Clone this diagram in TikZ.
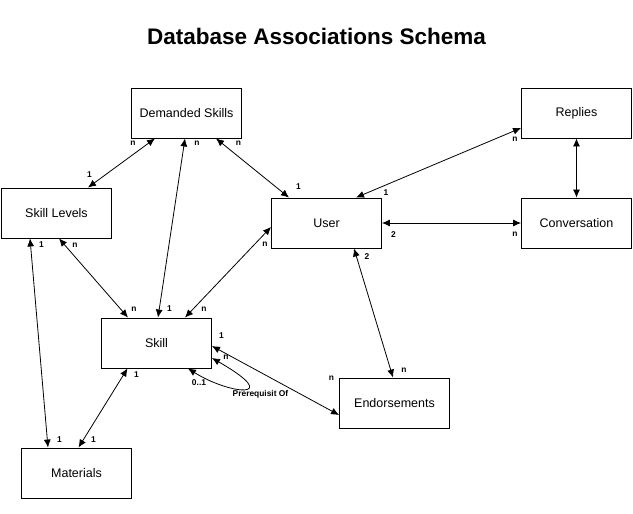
\documentclass[tikz,border=0pt]{standalone}
\usepackage{fontspec}
\setmainfont{Liberation Sans}
\usepackage{tikz}
\usetikzlibrary{calc}
\usetikzlibrary{arrows}
\usetikzlibrary{arrows.meta}
\usetikzlibrary{shapes}
\usetikzlibrary{positioning}

\tikzset{
 entity/.style={rectangle, draw=black, line width=0.9pt, minimum width=110pt, minimum height=50pt, inner sep=0pt, font=\fontsize{12.5}{14}\selectfont},
 card/.style={inner sep=0pt, font=\fontsize{8.4}{10}\selectfont\bfseries},
 assoc/.style={{Latex[length=8pt,width=7pt]}-{Latex[length=8pt,width=7pt]}, draw=black, line width=0.8pt}
}

\begin{document}
\begin{tikzpicture}[x=1pt, y=-1pt]
 \useasboundingbox (0, 0) rectangle (633, 514);
 \node [inner sep=0pt, font=\fontsize{22.5}{26}\selectfont\bfseries] (title) at (316.5, 36) {Database Associations Schema};

 \node [entity] (DS) at (186.5, 113) {Demanded Skills};
 \node [entity] (SL) at (56.5, 213) {Skill Levels};
 \node [entity] (U) at (326.5, 223) {User};
 \node [entity] (R) at (576.5, 113) {Replies};
 \node [entity] (C) at (576.5, 223) {Conversation};
 \node [entity] (S) at (156.5, 343) {Skill};
 \node [entity] (M) at (76.5, 473) {Materials};
 \node [entity] (E) at (394.5, 403) {Endorsements};

 \draw [assoc] ([xshift=-31.5pt]DS.south) to ([xshift=31.5pt]SL.north);
 \draw [assoc] ([xshift=-1.5pt]DS.south) to ([xshift=1.5pt]S.north);
 \draw [assoc] ([xshift=29.5pt]DS.south) to ([xshift=-37.5pt]U.north);
 \draw [assoc] ([xshift=-26.5pt]SL.south) to ([xshift=-28.5pt]M.north);
 \draw [assoc] ([xshift=2.5pt]SL.south) to ([xshift=-28.5pt]S.north);
 \draw [assoc] ([xshift=28.5pt]S.north) to ([yshift=-4pt]U.west);
 \draw [assoc] (U.east) to (C.west);
 \draw [assoc] ([xshift=29.5pt]U.north) to ([yshift=-15pt]R.west);
 \draw [assoc] (R.south) to (C.north);
 \draw [assoc] ([xshift=27.5pt]U.south) to ([xshift=-1.5pt]E.north);
 \draw [assoc] ([yshift=-3pt]S.east) to ([yshift=-12pt]E.west);
 \draw [assoc] ([xshift=-29pt]S.south) to ([xshift=2pt]M.north);
 \draw [assoc] ([yshift=-15pt]S.east) .. controls (285, 400) and (230, 395) .. ([xshift=31.5pt]S.south);

 % cardinalities
 \node [card] (c1a) at (133, 143) {n};
 \node [card] (c1b) at (89.5, 175) {1};
 \node [card] (c2a) at (197, 143) {n};
 \node [card] (c2b) at (169.5, 309) {1};
 \node [card] (c3a) at (238.5, 143) {n};
 \node [card] (c3b) at (298.5, 187) {1};
 \node [card] (c4a) at (41.5, 245) {1};
 \node [card] (c4b) at (59.5, 439.5) {1};
 \node [card] (c5a) at (75, 245) {n};
 \node [card] (c5b) at (134, 309) {n};
 \node [card] (c6a) at (204, 309.5) {n};
 \node [card] (c6b) at (265, 244) {n};
 \node [card] (c7a) at (393.5, 234.5) {2};
 \node [card] (c7b) at (515, 234.5) {n};
 \node [card] (c8a) at (386, 193) {1};
 \node [card] (c8b) at (515, 139) {n};
 \node [card] (c9a) at (367, 256.5) {2};
 \node [card] (c9b) at (404, 370) {n};
 \node [card] (c10a) at (221.5, 336) {1};
 \node [card] (c10b) at (331.5, 378) {n};
 \node [card] (c11a) at (136.5, 375) {1};
 \node [card] (c11b) at (93.5, 440) {1};
 \node [card] (c12a) at (226, 357.5) {n};
 \node [card] (c12b) at (199, 383) {0..1};
 \node [card] (prq) at (260.5, 394) {Prerequisit Of};
\end{tikzpicture}
\end{document}
